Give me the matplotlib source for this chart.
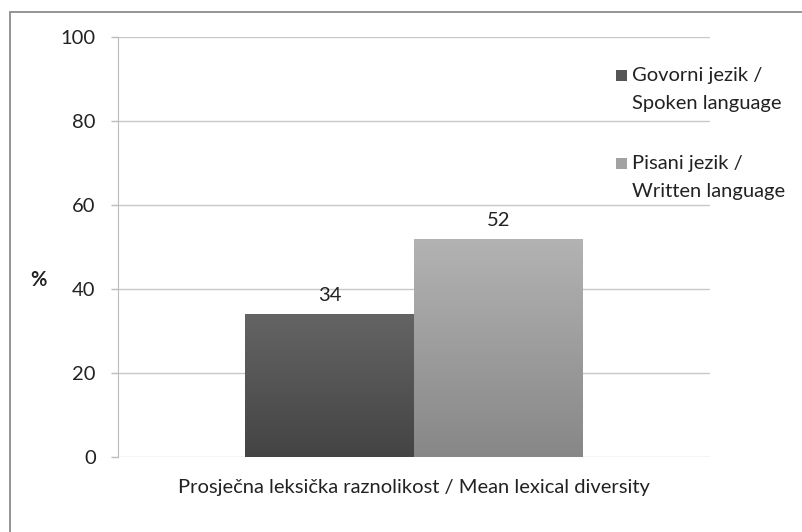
import numpy as np
import matplotlib.pyplot as plt
from matplotlib.colors import LinearSegmentedColormap
from matplotlib.patches import Rectangle

plt.rcParams['font.family'] = ['Lato', 'DejaVu Sans']

# data
category = ["Prosječna leksička raznolikost / Mean lexical diversity"]
series = [["Govorni jezik /", "Spoken language"], ["Pisani jezik /", "Written language"]]
values = [34, 52]
colors = ["#555555", "#a2a2a2"]
gradients = [("#646464", "#444444"), ("#b3b3b3", "#878787")]

FS = 14.5
TXT = "#222222"

fig = plt.figure(figsize=(8.02, 5.32), dpi=100)
ax = fig.add_axes([0.147, 0.141, 0.738, 0.7895])

# outer chart frame
fig.patches.append(Rectangle((10 / 802, -0.1), 1.2, 1 - 12 / 532 + 0.1,
                             transform=fig.transFigure, fill=False,
                             edgecolor="#8c8c8c", linewidth=1.3, zorder=0))

width = 0.285
for i, (lab, v, c) in enumerate(zip(series, values, colors)):
    offset = (i - 0.5) * width
    b = ax.bar(0 + offset, v, width, color=c, zorder=2)
    ax.bar_label(b, labels=[str(v)], padding=7, fontsize=FS, color=TXT)
    # gradient fill on top of the flat bar
    rect = b[0]
    cmap = LinearSegmentedColormap.from_list("g", [gradients[i][1], gradients[i][0]])
    grad = np.linspace(0, 1, 256).reshape(-1, 1)
    x0, y0 = rect.get_x(), rect.get_y()
    im = ax.imshow(grad, cmap=cmap, origin="lower", aspect="auto",
                   extent=[x0, x0 + rect.get_width(), y0, y0 + rect.get_height()],
                   zorder=3)
    im.set_clip_path(rect)

    # legend entry (square beside first line, label on two lines)
    ytop = 1 - (76 + i * 87) / 532
    fig.patches.append(Rectangle((616 / 802, ytop - 5.5 / 532), 11 / 802, 11 / 532,
                                 transform=fig.transFigure, facecolor=c,
                                 edgecolor="none"))
    fig.text(632 / 802, ytop, lab[0], fontsize=FS, color=TXT, va="center", ha="left")
    fig.text(632 / 802, ytop - 28 / 532, lab[1], fontsize=FS, color=TXT,
             va="center", ha="left")

ax.set_xlim(-0.5, 0.5)
ax.set_ylim(0, 100)
ax.set_yticks(range(0, 101, 20))
ax.set_xticks([0])
ax.set_xticklabels(category)
ax.tick_params(axis="x", length=0, pad=16, labelsize=FS, labelcolor=TXT)
ax.tick_params(axis="y", length=5, width=1, color="#bcbcbc", pad=11,
               labelsize=FS, labelcolor=TXT)
ax.grid(axis="y", color="#c8c8c8", linewidth=1, zorder=0)
ax.set_axisbelow(True)
for s in ["top", "right", "bottom"]:
    ax.spines[s].set_visible(False)
ax.spines["left"].set_color("#bcbcbc")

fig.text(38 / 802, 1 - 280 / 532, "%", fontsize=FS, fontweight="bold",
         ha="center", va="center", color=TXT)

fig.savefig("out.png", dpi=100)
